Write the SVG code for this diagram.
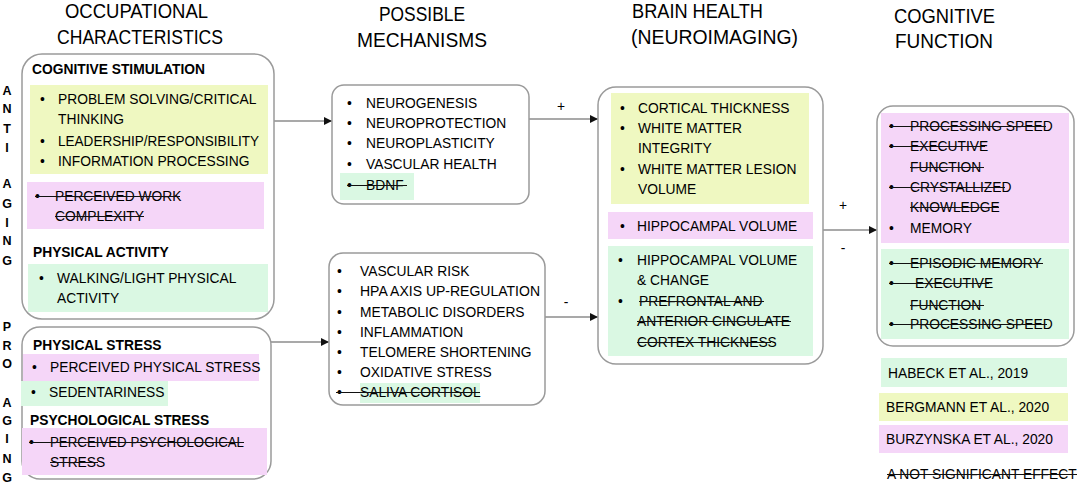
<svg xmlns="http://www.w3.org/2000/svg" width="1084" height="490" viewBox="0 0 1084 490">
<style>
text{font-family:"Liberation Sans",Arial,sans-serif;font-size:13.8px;fill:#000}
.b{font-weight:bold}
.h{font-size:20px}
.m{text-anchor:middle}
.side{font-size:12.5px;font-weight:bold;text-anchor:middle}
.box{fill:#fff;stroke:#9a9a9a;stroke-width:1.5}
.y{fill:#eff8c1}
.p{fill:#f5d6f8}
.g{fill:#daf8e3}
.s{stroke:#111;stroke-width:1.1}
.c{stroke:#555;stroke-width:1.2;fill:none}
</style>
<defs>
<marker id="arr" viewBox="0 0 10 10" refX="10" refY="5" markerUnits="userSpaceOnUse" markerWidth="8" markerHeight="8" orient="auto">
<path d="M0,0 L10,5 L0,10 z" fill="#111"/>
</marker>
</defs>
<rect width="1084" height="490" fill="#fff"/>

<g id="headers">
<text class="h" x="65" y="18" textLength="143" lengthAdjust="spacingAndGlyphs">OCCUPATIONAL</text>
<text class="h" x="57" y="44" textLength="166" lengthAdjust="spacingAndGlyphs">CHARACTERISTICS</text>
<text class="h" x="379" y="21" textLength="86" lengthAdjust="spacingAndGlyphs">POSSIBLE</text>
<text class="h" x="357" y="47" textLength="130" lengthAdjust="spacingAndGlyphs">MECHANISMS</text>
<text class="h" x="632" y="18" textLength="131" lengthAdjust="spacingAndGlyphs">BRAIN HEALTH</text>
<text class="h" x="631" y="44" textLength="167" lengthAdjust="spacingAndGlyphs">(NEUROIMAGING)</text>
<text class="h" x="894" y="23" textLength="101" lengthAdjust="spacingAndGlyphs">COGNITIVE</text>
<text class="h" x="895" y="48" textLength="98" lengthAdjust="spacingAndGlyphs">FUNCTION</text>
</g>

<g id="side-labels">
<text class="side" x="7" y="95">A</text>
<text class="side" x="7" y="113">N</text>
<text class="side" x="7" y="133">T</text>
<text class="side" x="7" y="152">I</text>
<text class="side" x="7" y="188">A</text>
<text class="side" x="7" y="208">G</text>
<text class="side" x="7" y="227">I</text>
<text class="side" x="7" y="245">N</text>
<text class="side" x="7" y="265">G</text>
<text class="side" x="7" y="331">P</text>
<text class="side" x="7" y="350">R</text>
<text class="side" x="7" y="368">O</text>
<text class="side" x="7" y="407">A</text>
<text class="side" x="7" y="425">G</text>
<text class="side" x="7" y="443">I</text>
<text class="side" x="7" y="463">N</text>
<text class="side" x="7" y="482">G</text>
</g>

<g id="connectors">
<line class="c" x1="274" y1="121" x2="332" y2="121" marker-end="url(#arr)"/>
<line class="c" x1="529" y1="119" x2="598" y2="119" marker-end="url(#arr)"/>
<line class="c" x1="271" y1="342" x2="329" y2="342" marker-end="url(#arr)"/>
<line class="c" x1="545" y1="317" x2="598" y2="317" marker-end="url(#arr)"/>
<line class="c" x1="823" y1="230" x2="877" y2="230" marker-end="url(#arr)"/>
<text class="m" x="561" y="111">+</text>
<text class="m" x="566" y="307">-</text>
<text class="m" x="843" y="210">+</text>
<text class="m" x="843" y="253">-</text>
</g>

<g id="occupational-anti-aging">
<rect class="box" x="22" y="54" width="252" height="265" rx="20"/>
<text class="b" x="32" y="74">COGNITIVE STIMULATION</text>
<rect class="y" x="30" y="85" width="238" height="89"/>
<text x="40" y="104">•</text><text x="58" y="104">PROBLEM SOLVING/CRITICAL</text>
<text x="58" y="124">THINKING</text>
<text x="40" y="146">•</text><text x="58" y="146" textLength="201" lengthAdjust="spacingAndGlyphs">LEADERSHIP/RESPONSIBILITY</text>
<text x="40" y="166">•</text><text x="58" y="166">INFORMATION PROCESSING</text>
<rect class="p" x="27" y="182" width="237" height="47"/>
<text x="35" y="201">•</text><text x="55" y="201">PERCEIVED WORK</text>
<text x="55" y="221">COMPLEXITY</text>
<line class="s" x1="35" y1="196.5" x2="180" y2="196.5"/>
<line class="s" x1="55" y1="216.5" x2="144" y2="216.5"/>
<text class="b" x="33" y="257">PHYSICAL ACTIVITY</text>
<rect class="g" x="28" y="264" width="240" height="48"/>
<text x="39" y="283">•</text><text x="57" y="283">WALKING/LIGHT PHYSICAL</text>
<text x="57" y="303">ACTIVITY</text>
</g>

<g id="occupational-pro-aging">
<rect class="box" x="22" y="327" width="249" height="152" rx="18"/>
<text class="b" x="33" y="350">PHYSICAL STRESS</text>
<rect class="p" x="23" y="354" width="236" height="27"/>
<text x="32" y="372">•</text><text x="50" y="372">PERCEIVED PHYSICAL STRESS</text>
<rect class="g" x="21" y="381" width="147" height="25"/>
<text x="31" y="397">•</text><text x="49" y="397">SEDENTARINESS</text>
<text class="b" x="30" y="425">PSYCHOLOGICAL STRESS</text>
<rect class="p" x="22" y="428" width="245" height="47"/>
<text x="29" y="447">•</text><text x="50" y="447" textLength="194" lengthAdjust="spacingAndGlyphs">PERCEIVED PSYCHOLOGICAL</text>
<text x="50" y="467">STRESS</text>
<line class="s" x1="29" y1="442.5" x2="244" y2="442.5"/>
<line class="s" x1="50" y1="462.5" x2="98" y2="462.5"/>
</g>

<g id="mechanisms-positive">
<rect class="box" x="332" y="85" width="197" height="119" rx="12"/>
<text x="347" y="108">•</text><text x="366" y="108">NEUROGENESIS</text>
<text x="347" y="128">•</text><text x="366" y="128">NEUROPROTECTION</text>
<text x="347" y="148">•</text><text x="366" y="148">NEUROPLASTICITY</text>
<text x="347" y="169">•</text><text x="366" y="169">VASCULAR HEALTH</text>
<rect class="g" x="340" y="173" width="74" height="27"/>
<text x="347" y="190">•</text><text x="366" y="190">BDNF</text>
<line class="s" x1="347" y1="185.5" x2="407" y2="185.5"/>
</g>

<g id="mechanisms-negative">
<rect class="box" x="329" y="253" width="216" height="152" rx="14"/>
<text x="337" y="276">•</text><text x="360" y="276">VASCULAR RISK</text>
<text x="337" y="296">•</text><text x="360" y="296" textLength="180" lengthAdjust="spacingAndGlyphs">HPA AXIS UP-REGULATION</text>
<text x="337" y="317">•</text><text x="360" y="317">METABOLIC DISORDERS</text>
<text x="337" y="337">•</text><text x="360" y="337">INFLAMMATION</text>
<text x="337" y="357">•</text><text x="360" y="357">TELOMERE SHORTENING</text>
<text x="337" y="377">•</text><text x="360" y="377">OXIDATIVE STRESS</text>
<rect class="g" x="360" y="383" width="120" height="20"/>
<text x="337" y="397">•</text><text x="360" y="397">SALIVA CORTISOL</text>
<line class="s" x1="336" y1="392.5" x2="480" y2="392.5"/>
</g>

<g id="brain-health">
<rect class="box" x="598" y="87" width="225" height="277" rx="18"/>
<rect class="y" x="611" y="93" width="198" height="111"/>
<text x="620" y="113">•</text><text x="638" y="113">CORTICAL THICKNESS</text>
<text x="620" y="133">•</text><text x="638" y="133">WHITE MATTER</text>
<text x="638" y="153">INTEGRITY</text>
<text x="620" y="174">•</text><text x="638" y="174">WHITE MATTER LESION</text>
<text x="638" y="194">VOLUME</text>
<rect class="p" x="608" y="212" width="205" height="27"/>
<text x="620" y="231">•</text><text x="637" y="231">HIPPOCAMPAL VOLUME</text>
<rect class="g" x="608" y="246" width="205" height="110"/>
<text x="618" y="265">•</text><text x="637" y="265">HIPPOCAMPAL VOLUME</text>
<text x="637" y="285">&amp; CHANGE</text>
<text x="618" y="306">•</text><text x="639" y="306">PREFRONTAL AND</text>
<text x="637" y="326">ANTERIOR CINGULATE</text>
<text x="637" y="347">CORTEX THICKNESS</text>
<line class="s" x1="639" y1="301.5" x2="764" y2="301.5"/>
<line class="s" x1="637" y1="321.5" x2="791" y2="321.5"/>
<line class="s" x1="637" y1="342.5" x2="771" y2="342.5"/>
</g>

<g id="cognitive-function">
<rect class="box" x="877" y="106" width="197" height="240" rx="16"/>
<rect class="p" x="881" y="113" width="188" height="130"/>
<text x="889" y="131">•</text><text x="910" y="131">PROCESSING SPEED</text>
<text x="889" y="151">•</text><text x="910" y="151">EXECUTIVE</text>
<text x="910" y="172">FUNCTION</text>
<text x="889" y="192">•</text><text x="910" y="192">CRYSTALLIZED</text>
<text x="910" y="212">KNOWLEDGE</text>
<text x="889" y="233">•</text><text x="910" y="233">MEMORY</text>
<line class="s" x1="889" y1="126.5" x2="1046" y2="126.5"/>
<line class="s" x1="889" y1="146.5" x2="985" y2="146.5"/>
<line class="s" x1="910" y1="167.5" x2="984" y2="167.5"/>
<line class="s" x1="889" y1="187.5" x2="1005" y2="187.5"/>
<line class="s" x1="910" y1="207.5" x2="999" y2="207.5"/>
<rect class="g" x="881" y="249" width="188" height="90"/>
<text x="889" y="268">•</text><text x="910" y="268">EPISODIC MEMORY</text>
<text x="889" y="288">•</text><text x="915" y="288">EXECUTIVE</text>
<text x="910" y="310">FUNCTION</text>
<text x="889" y="329">•</text><text x="910" y="329">PROCESSING SPEED</text>
<line class="s" x1="889" y1="263.5" x2="1043" y2="263.5"/>
<line class="s" x1="889" y1="283.5" x2="989" y2="283.5"/>
<line class="s" x1="910" y1="305.5" x2="984" y2="305.5"/>
<line class="s" x1="889" y1="324.5" x2="1047" y2="324.5"/>
</g>

<g id="legend">
<rect class="g" x="881" y="358" width="186" height="29"/>
<text x="888" y="378">HABECK ET AL., 2019</text>
<rect class="y" x="879" y="393" width="189" height="28"/>
<text x="886" y="412">BERGMANN ET AL., 2020</text>
<rect class="p" x="879" y="425" width="189" height="28"/>
<text x="886" y="444">BURZYNSKA ET AL., 2020</text>
<text x="887" y="479">A NOT SIGNIFICANT EFFECT</text>
<line class="s" x1="887" y1="474.5" x2="1077" y2="474.5"/>
</g>
</svg>
